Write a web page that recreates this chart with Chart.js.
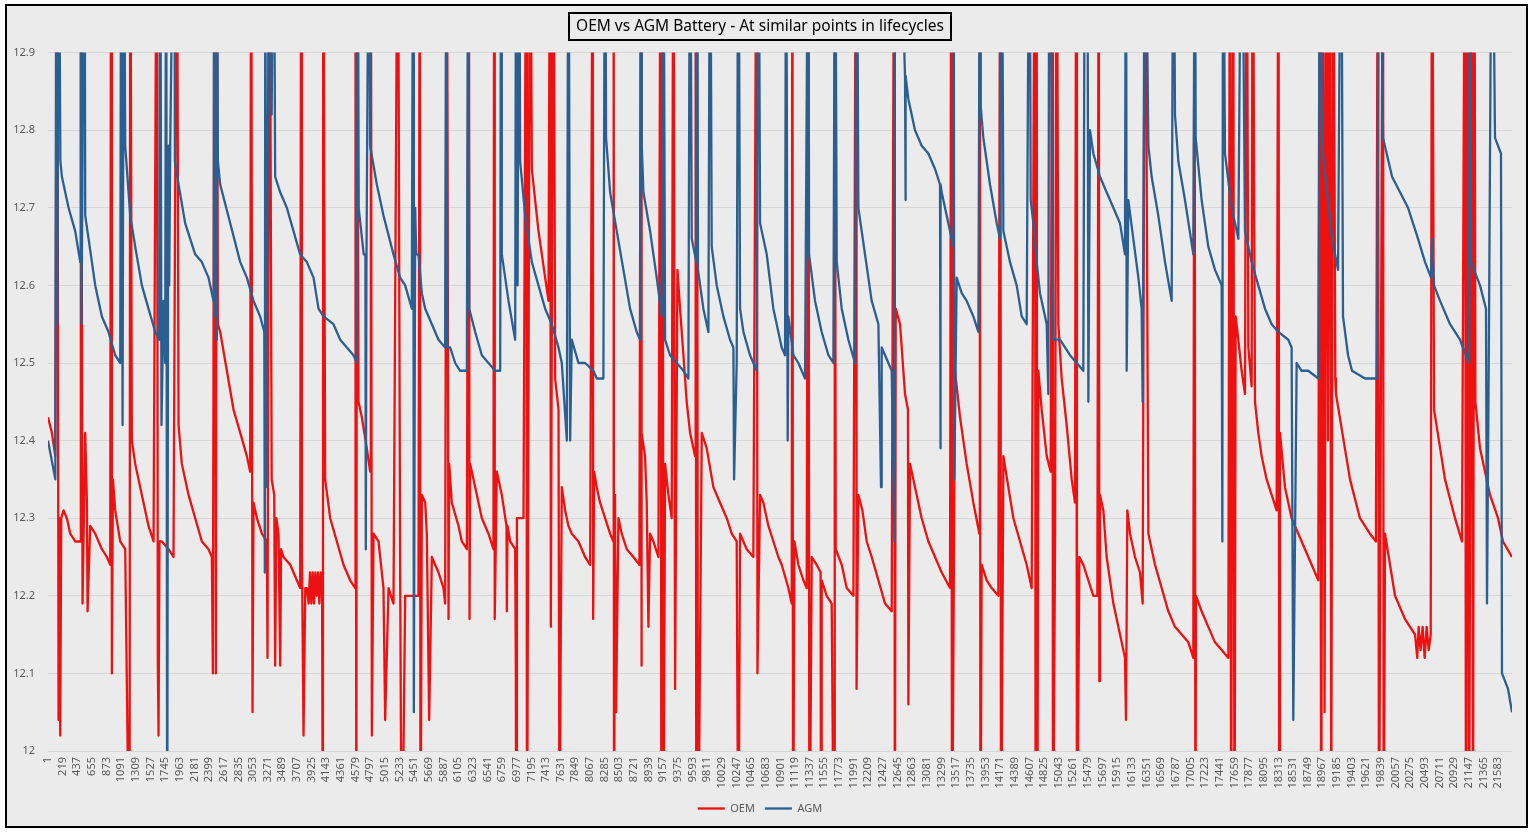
<!DOCTYPE html>
<html>
<head>
<meta charset="utf-8">
<title>OEM vs AGM Battery</title>
<script src="https://cdn.jsdelivr.net/npm/chart.js@4.4.1/dist/chart.umd.min.js"></script>
<style>
  html, body { margin: 0; padding: 0; background: #fff; }
  #wrap { position: relative; width: 1534px; height: 834px; }
</style>
</head>
<body>
<div id="wrap"><canvas id="chart" width="1534" height="834"></canvas></div>
<script>
// Подписи оси X (каждая 218-я точка, как в Excel)
const xTicks = [1,219,437,655,873,1091,1309,1527,1745,1963,2181,2399,2617,2835,3053,3271,3489,3707,3925,4143,
  4361,4579,4797,5015,5233,5451,5669,5887,6105,6323,6541,6759,6977,7195,7413,7631,7849,8067,8285,8503,
  8721,8939,9157,9375,9593,9811,10029,10247,10465,10683,10901,11119,11337,11555,11773,11991,12209,12427,12645,12863,
  13081,13299,13517,13735,13953,14171,14389,14607,14825,15043,15261,15479,15697,15915,16133,16351,16569,16787,17005,17223,
  17441,17659,17877,18095,18313,18531,18749,18967,19185,19403,19621,19839,20057,20275,20493,20711,20929,21147,21365,21583];
const lastIndex = 21790;

const seriesNames = ['OEM', 'AGM'];

// Напряжение OEM, [номер отсчёта, В] (13.2 / 11.8 — выбросы за пределы шкалы)
const oem = [
  [1,12.43],[59,12.41],[109,12.38],[138,13.2],[158,12.04],[170,12.3],[183,12.02],[198,12.30],[233,12.31],[282,12.30],[332,12.28],[406,12.27],[481,12.27],[490,13.2],[515,12.19],[555,12.41],[580,12.32],[590,12.18],[629,12.29],[704,12.28],[803,12.26],[877,12.25],[927,12.24],[940,13.2],[952,12.10],[967,12.35],[1001,12.31],[1076,12.27],[1150,12.26],[1215,11.8],[1225,13.2],[1249,12.40],[1299,12.37],[1398,12.33],[1497,12.29],[1572,12.27],[1621,13.2],[1636,12.11],[1646,12.02],[1660,12.27],[1696,12.27],[1795,12.26],[1869,12.25],[1919,13.2],[1944,12.42],[1993,12.37],[2093,12.33],[2192,12.30],[2291,12.27],[2390,12.26],[2440,12.25],[2455,12.10],[2480,13.2],[2500,12.10],[2514,13.2],
  [2529,12.55],[2564,12.54],[2663,12.49],[2762,12.44],[2862,12.41],[2961,12.38],[3010,12.36],[3025,13.2],[3045,12.05],[3060,12.32],[3110,12.30],[3184,12.28],[3258,12.27],[3268,12.12],[3298,13.2],[3330,12.35],[3368,12.33],[3382,12.11],[3400,12.30],[3432,12.28],[3457,12.11],[3470,12.26],[3506,12.25],[3606,12.24],[3705,12.22],[3754,12.21],[3769,13.2],[3779,12.27],[3804,12.02],[3830,12.21],[3854,12.21],[3880,12.19],[3900,12.23],[3920,12.19],[3940,12.23],[3960,12.19],[3980,12.23],[4000,12.20],[4020,12.23],[4040,12.19],[4060,12.23],[4080,12.21],[4092,11.8],[4097,13.2],[4126,12.35],[4201,12.30],[4300,12.27],[4399,12.24],[4498,12.22],[4573,12.21],[4578,13.2],[4590,11.8],[4600,13.2],
  [4622,12.45],[4672,12.43],[4746,12.39],[4796,12.36],[4806,13.2],[4821,12.02],[4846,12.28],[4920,12.27],[4994,12.21],[5019,12.04],[5069,12.21],[5143,12.19],[5208,13.2],[5242,12.23],[5267,11.8],[5317,12.20],[5515,12.20],[5535,13.2],[5545,11.8],[5565,12.33],[5615,12.32],[5639,12.28],[5674,12.04],[5714,12.25],[5813,12.23],[5887,12.21],[5912,12.19],[5937,13.2],[5962,12.17],[5972,12.37],[6011,12.32],[6111,12.29],[6160,12.27],[6235,12.26],[6265,13.2],[6275,12.17],[6284,12.37],[6359,12.34],[6458,12.30],[6557,12.28],[6631,12.26],[6642,13.2],[6650,12.17],[6681,12.36],[6755,12.33],[6825,12.29],[6830,12.18],[6840,12.29],[6880,12.27],[6954,12.26],[6964,12.10],[6969,11.8],[6980,12.30],[7003,12.30],[7078,12.30],[7120,13.2],[7130,11.8],[7177,13.2],
  [7202,12.75],[7251,12.71],[7301,12.67],[7351,12.64],[7400,12.61],[7450,12.58],[7475,13.2],[7485,12.16],[7524,13.2],[7549,12.48],[7599,12.44],[7615,11.8],[7630,12.11],[7648,12.34],[7698,12.31],[7747,12.29],[7797,12.28],[7896,12.27],[7995,12.25],[8070,12.24],[8109,13.2],[8115,12.17],[8129,12.36],[8168,12.34],[8218,12.32],[8292,12.30],[8367,12.28],[8416,12.27],[8420,13.2],[8425,11.8],[8440,12.33],[8456,12.05],[8491,12.30],[8540,12.28],[8615,12.26],[8714,12.25],[8803,12.24],[8828,13.2],[8833,12.11],[8838,12.41],[8887,12.38],[8912,12.32],[8937,12.16],[8962,12.28],[9011,12.27],[9086,12.25],[9120,13.2],[9130,11.8],[9150,13.2],[9160,11.8],[9185,12.37],[9235,12.33],[9284,12.30],[9309,13.2],[9334,12.08],
  [9369,12.62],[9408,12.57],[9458,12.51],[9507,12.45],[9557,12.41],[9631,12.38],[9640,13.2],[9650,11.8],[9660,13.2],[9675,11.8],[9731,12.41],[9805,12.39],[9904,12.34],[10003,12.32],[10103,12.30],[10177,12.28],[10251,12.27],[10276,11.8],[10301,12.28],[10400,12.26],[10499,12.25],[10549,13.2],[10560,12.10],[10599,12.33],[10648,12.32],[10723,12.29],[10797,12.27],[10871,12.25],[10921,12.24],[11020,12.21],[11070,12.19],[11080,13.2],[11090,11.8],[11110,12.27],[11169,12.24],[11244,12.22],[11293,12.21],[11318,13.2],[11333,11.8],[11368,12.25],[11442,12.24],[11500,12.23],[11506,11.8],[11516,12.22],[11591,12.20],[11665,12.19],[11700,11.8],[11710,13.2],[11725,12.26],[11814,12.24],[11888,12.21],[11988,12.20],[12027,13.2],[12035,12.08],[12062,12.33],[12122,12.31],[12186,12.27],[12260,12.25],[12360,12.22],[12459,12.19],[12558,12.18],[12595,13.2],[12605,11.8],
  [12618,12.57],[12682,12.55],[12756,12.46],[12800,12.44],[12806,12.06],[12831,12.37],[12905,12.34],[13004,12.30],[13104,12.27],[13203,12.25],[13302,12.23],[13426,12.21],[13445,13.2],[13455,11.8],[13500,12.49],[13575,12.43],[13674,12.37],[13773,12.32],[13863,12.28],[13870,13.2],[13878,11.8],[13897,12.24],[13972,12.22],[14046,12.21],[14145,12.20],[14175,13.2],[14185,11.8],[14220,12.38],[14294,12.34],[14369,12.30],[14468,12.27],[14567,12.24],[14641,12.21],[14690,13.2],[14700,11.8],[14715,13.2],[14725,11.8],[14741,12.49],[14790,12.44],[14865,12.38],[14924,12.36],[14950,13.2],[14958,11.8],[14989,12.27],[15013,13.2],[15038,12.55],[15088,12.48],[15162,12.42],[15237,12.35],[15286,12.32],[15305,13.2],[15315,11.8],[15351,12.25],[15410,12.24],[15485,12.22],[15559,12.20],[15619,12.20],[15640,13.2],[15648,12.09],
  [15658,12.33],[15708,12.31],[15757,12.25],[15857,12.19],[15956,12.15],[16030,12.12],[16045,12.04],[16065,12.31],[16105,12.28],[16179,12.25],[16253,12.23],[16293,12.19],[16328,13.2],[16378,12.28],[16477,12.24],[16576,12.21],[16675,12.18],[16774,12.16],[16874,12.15],[16973,12.14],[17047,12.12],[17065,13.2],[17078,11.8],[17087,12.20],[17171,12.18],[17270,12.16],[17370,12.14],[17469,12.13],[17568,12.12],[17593,13.2],[17610,11.8],[17640,13.2],[17660,11.8],[17677,12.56],[17717,12.53],[17766,12.49],[17816,12.46],[17841,13.2],[17866,12.52],[17915,12.47],[17930,13.2],[17965,12.45],[18014,12.41],[18064,12.38],[18138,12.35],[18213,12.33],[18287,12.31],[18315,13.2],[18325,11.8],[18337,12.41],[18411,12.34],[18510,12.30],[18610,12.28],[18709,12.26],[18808,12.24],[18907,12.22],
  [18932,13.2],[18950,11.8],[18980,13.2],[19000,12.05],[19030,13.2],[19050,12.40],[19080,13.2],[19100,11.9],[19130,13.2],[19160,12.48],[19170,12.46],[19379,12.35],[19527,12.30],[19676,12.28],[19765,12.27],[19795,13.2],[19810,11.8],[19870,13.2],[19880,11.8],[19900,12.28],[20049,12.20],[20198,12.17],[20347,12.15],[20380,12.12],[20400,12.16],[20430,12.13],[20460,12.16],[20490,12.12],[20520,12.16],[20550,12.13],[20580,12.15],[20600,13.2],[20630,12.44],[20793,12.35],[20942,12.30],[21046,12.27],[21091,13.2],[21105,11.8],[21130,13.2],[21150,11.8],[21170,12.40],[21190,13.2],[21210,11.8],[21230,13.2],[21245,12.45],[21314,12.39],[21388,12.36],[21463,12.33],[21582,12.30],[21656,12.27],[21790,12.25]
];

// Напряжение AGM, [номер отсчёта, В]
const agm = [
  [1,12.40],[110,12.35],[125,13.2],[140,12.55],[160,13.2],[185,12.76],[208,12.74],[307,12.70],[406,12.67],[481,12.63],[490,13.2],[500,12.55],[545,13.2],[555,12.69],[605,12.66],[704,12.60],[803,12.56],[902,12.54],[1001,12.51],[1076,12.50],[1091,13.2],[1111,12.42],[1130,13.2],[1150,12.78],[1225,12.69],[1299,12.65],[1398,12.60],[1497,12.57],[1597,12.54],[1656,12.53],[1671,13.2],[1690,12.42],[1720,12.58],[1745,12.50],[1760,13.2],[1775,11.8],[1790,12.78],[1805,12.60],[1820,12.78],[1880,13.2],[1890,12.76],[1944,12.73],[2043,12.68],[2192,12.64],[2291,12.63],[2390,12.61],[2465,12.58],[2470,13.2],[2480,12.56],[2490,13.2],[2510,12.53],[2515,13.2],
  [2529,12.76],[2564,12.73],[2713,12.68],[2862,12.63],[2961,12.61],[3060,12.58],[3159,12.56],[3220,12.54],[3228,12.23],[3236,13.2],[3246,12.34],[3298,13.2],[3330,12.82],[3358,13.2],[3382,12.74],[3457,12.72],[3556,12.70],[3655,12.67],[3754,12.64],[3854,12.63],[3953,12.61],[4027,12.57],[4102,12.56],[4250,12.55],[4350,12.53],[4449,12.52],[4548,12.51],[4598,12.50],[4610,13.2],[4625,12.70],[4700,12.64],[4725,12.64],[4731,12.26],[4740,12.62],[4780,13.2],[4795,12.78],[4895,12.73],[4994,12.69],[5143,12.64],[5242,12.61],[5317,12.60],[5416,12.57],[5436,13.2],[5446,12.05],[5466,12.70],[5481,12.64],[5515,12.64],[5565,12.59],[5615,12.57],[5714,12.55],[5813,12.53],[5912,12.52],[5930,13.2],[5945,12.52],[5987,12.52],[6061,12.50],[6135,12.49],[6235,12.49],[6255,13.2],
  [6270,12.57],[6359,12.54],[6458,12.51],[6557,12.50],[6656,12.49],[6731,12.49],[6745,13.2],[6755,12.64],[6855,12.58],[6954,12.53],[6969,13.2],[6990,12.60],[7013,13.2],[7028,12.76],[7103,12.69],[7202,12.63],[7301,12.60],[7400,12.57],[7499,12.55],[7599,12.52],[7648,12.50],[7723,12.40],[7747,13.2],[7772,12.40],[7797,12.53],[7896,12.50],[7995,12.50],[8119,12.49],[8168,12.48],[8267,12.48],[8292,13.2],[8307,12.79],[8367,12.72],[8466,12.67],[8565,12.62],[8664,12.57],[8763,12.54],[8813,12.53],[8828,13.2],[8838,12.78],[8863,12.72],[8962,12.67],[9061,12.61],[9135,12.56],[9160,13.2],[9185,12.53],[9259,12.51],[9359,12.50],[9458,12.49],[9532,12.48],[9557,13.2],[9582,12.66],[9650,12.63],[9660,13.2],[9675,12.62],[9755,12.57],[9830,12.54],[9855,13.2],
  [9879,12.65],[9954,12.60],[10053,12.56],[10152,12.53],[10202,12.52],[10212,12.35],[10251,12.50],[10276,13.2],[10301,12.57],[10351,12.54],[10450,12.51],[10549,12.49],[10574,13.2],[10599,12.68],[10698,12.64],[10797,12.57],[10871,12.54],[10921,12.52],[10971,12.51],[10986,13.2],[11010,12.40],[11020,12.56],[11095,12.51],[11169,12.50],[11268,12.48],[11318,13.2],[11328,12.64],[11417,12.58],[11516,12.54],[11616,12.51],[11690,12.50],[11715,13.2],[11740,12.63],[11814,12.57],[11913,12.53],[12012,12.50],[12037,13.2],[12062,12.70],[12161,12.64],[12260,12.58],[12360,12.55],[12399,12.34],[12409,12.52],[12459,12.51],[12558,12.49],[12600,12.27],[12608,13.2],[12730,12.95],
  [12756,12.87],[12760,12.71],[12770,12.87],[12806,12.84],[12905,12.80],[13004,12.78],[13104,12.77],[13203,12.75],[13277,12.73],[13280,12.39],[13290,12.73],[13302,12.72],[13401,12.68],[13476,12.65],[13480,13.2],[13490,12.35],[13525,12.61],[13600,12.59],[13674,12.58],[13773,12.56],[13848,12.54],[13873,13.2],[13883,12.83],[13922,12.79],[14021,12.73],[14121,12.68],[14170,12.66],[14195,13.2],[14220,12.67],[14319,12.63],[14418,12.60],[14493,12.56],[14567,12.55],[14607,13.2],[14627,12.71],[14666,12.68],[14716,12.63],[14765,12.59],[14865,12.55],[14889,12.46],[14904,13.2],[14964,12.53],[15063,12.53],[15212,12.51],[15311,12.50],[15410,12.49],[15435,13.2],[15470,13.2],[15485,12.45],
  [15509,12.80],[15559,12.77],[15658,12.74],[15757,12.72],[15857,12.70],[15956,12.68],[16030,12.64],[16045,13.2],[16055,12.49],[16080,12.71],[16154,12.66],[16229,12.61],[16278,12.57],[16293,12.45],[16328,13.2],[16378,12.78],[16427,12.74],[16526,12.69],[16626,12.63],[16725,12.58],[16750,13.2],[16774,12.82],[16824,12.76],[16923,12.71],[17047,12.64],[17072,13.2],[17082,12.79],[17171,12.71],[17270,12.65],[17370,12.62],[17469,12.60],[17479,12.27],[17489,13.2],[17518,12.77],[17618,12.70],[17717,12.66],[17766,13.2],[17816,12.67],[17915,12.63],[18014,12.60],[18114,12.57],[18213,12.55],[18312,12.54],[18461,12.53],[18510,12.52],[18535,12.04],[18585,12.50],[18659,12.49],[18758,12.49],[18907,12.48],[18932,13.2],
  [18963,12.78],[19112,12.66],[19201,12.62],[19246,13.2],[19275,12.56],[19350,12.51],[19409,12.49],[19603,12.48],[19782,12.48],[19812,13.2],[19871,12.79],[20005,12.74],[20124,12.72],[20243,12.70],[20392,12.66],[20496,12.63],[20585,12.61],[20600,12.66],[20630,12.60],[20719,12.58],[20868,12.55],[21016,12.53],[21105,12.51],[21150,12.50],[21165,13.2],[21180,12.63],[21314,12.60],[21403,12.57],[21418,12.19],[21448,12.55],[21492,13.2],[21537,12.79],[21626,12.77],[21641,12.10],[21731,12.08],[21790,12.05]
];

const yTicks = [12, 12.1, 12.2, 12.3, 12.4, 12.5, 12.6, 12.7, 12.8, 12.9];

// Фон, рамка вокруг всей диаграммы и рамка заголовка
const framePlugin = {
    id: 'frame',
    beforeDraw(chart) {
        const ctx = chart.ctx;
        ctx.save();
        ctx.fillStyle = '#ffffff';
        ctx.fillRect(0, 0, chart.width, chart.height);
        ctx.fillStyle = '#ebebeb';
        ctx.fillRect(6, 5, 1521, 822);
        ctx.strokeStyle = '#000000';
        ctx.lineWidth = 2;
        ctx.strokeRect(6, 5, 1521, 822);
        ctx.restore();
    },
    afterDraw(chart) {
        const tb = chart.titleBlock;
        const opts = chart.options.plugins.title;
        const ctx = chart.ctx;
        ctx.save();
        ctx.font = opts.font.size + 'px ' + opts.font.family;
        const w = ctx.measureText(opts.text).width + 14;
        const cx = tb.left + tb.width / 2;
        const cy = tb.top + opts.padding.top + opts.font.size * 1.2 / 2;
        ctx.strokeStyle = '#000000';
        ctx.lineWidth = 2;
        ctx.strokeRect(Math.round(cx - w / 2), Math.round(cy - 13.5), Math.round(w), 27);
        ctx.restore();
    }
};

const ctx = document.getElementById('chart').getContext('2d');
const chart = new Chart(ctx, {
    type: 'line',
    data: {
        datasets: [{
            label: seriesNames[0],
            data: oem,
            borderColor: '#ee1111',
            backgroundColor: '#ee1111',
            borderWidth: 2.3,
            pointRadius: 0,
            tension: 0,
            borderJoinStyle: 'round',
            order: 2
        }, {
            label: seriesNames[1],
            data: agm,
            borderColor: '#2b5f91',
            backgroundColor: '#2b5f91',
            borderWidth: 2.3,
            pointRadius: 0,
            tension: 0,
            borderJoinStyle: 'round',
            order: 1
        }]
    },
    options: {
        responsive: false,
        animation: false,
        events: [],
        layout: { padding: { left: 8, right: 22, top: 0, bottom: 10 } },
        plugins: {
            title: {
                display: true,
                text: 'OEM vs AGM Battery - At similar points in lifecycles',
                color: '#000000',
                font: { family: 'Noto Sans', size: 15.5, weight: 'normal' },
                padding: { top: 17, bottom: 17 }
            },
            legend: {
                display: true,
                position: 'bottom',
                labels: {
                    usePointStyle: true,
                    pointStyle: 'line',
                    pointStyleWidth: 27,
                    boxHeight: 11,
                    color: '#595959',
                    font: { family: 'Noto Sans', size: 11 },
                    padding: 10,
                    sort: (a, b) => a.datasetIndex - b.datasetIndex
                }
            },
            tooltip: { enabled: false }
        },
        scales: {
            x: {
                type: 'linear',
                min: 1,
                max: lastIndex,
                afterFit: (scale) => { scale.height = 42; },
                afterBuildTicks: (scale) => { scale.ticks = xTicks.map(v => ({ value: v })); },
                grid: { display: false, drawTicks: false },
                border: { display: false },
                ticks: {
                    autoSkip: false,
                    minRotation: 90,
                    maxRotation: 90,
                    padding: 6,
                    color: '#595959',
                    font: { family: 'Noto Sans', size: 11 },
                    callback: (v) => String(v)
                }
            },
            y: {
                min: 12,
                max: 12.9,
                afterFit: (scale) => { scale.width = 40; },
                afterBuildTicks: (scale) => { scale.ticks = yTicks.map(v => ({ value: v })); },
                grid: { color: '#d6d6d6', drawTicks: false },
                border: { display: false },
                ticks: {
                    padding: 13,
                    color: '#595959',
                    font: { family: 'Noto Sans', size: 11 },
                    callback: (v) => String(Number(v.toFixed(1)))
                }
            }
        }
    },
    plugins: [framePlugin]
});
</script>
</body>
</html>
